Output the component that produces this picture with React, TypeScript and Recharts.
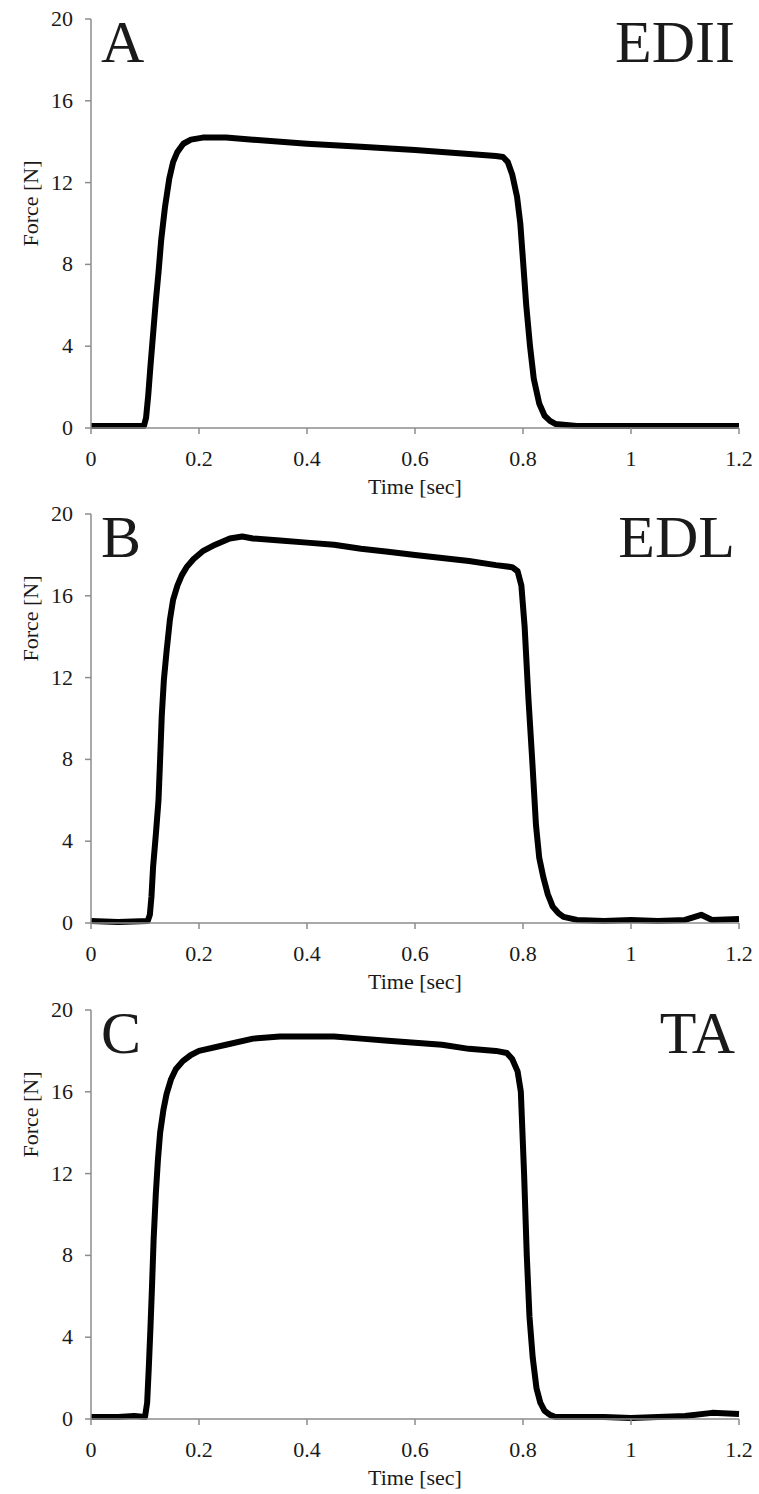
import React from 'react';
import { LineChart, Line, XAxis, YAxis } from 'recharts';

// time in seconds, force in newtons
const TIME_A = [0, 0.05, 0.098, 0.102, 0.106, 0.11, 0.115, 0.12, 0.125, 0.13, 0.137, 0.145, 0.152, 0.16, 0.171, 0.185, 0.207, 0.25, 0.3, 0.4, 0.5, 0.6, 0.7, 0.75, 0.763, 0.772, 0.78, 0.789, 0.795, 0.8, 0.806, 0.813, 0.82, 0.83, 0.84, 0.85, 0.86, 0.9, 1.0, 1.1, 1.2];
const FORCE_A = [0.1, 0.1, 0.1, 0.5, 1.6, 3.0, 4.6, 6.2, 7.6, 9.2, 10.8, 12.2, 13.0, 13.5, 13.9, 14.1, 14.2, 14.2, 14.1, 13.9, 13.75, 13.6, 13.4, 13.3, 13.25, 13.0, 12.4, 11.3, 10.0, 8.2, 6.0, 4.0, 2.4, 1.2, 0.6, 0.35, 0.2, 0.1, 0.1, 0.1, 0.1];

const TIME_B = [0, 0.05, 0.105, 0.109, 0.112, 0.115, 0.12, 0.125, 0.128, 0.131, 0.135, 0.14, 0.146, 0.152, 0.16, 0.168, 0.177, 0.19, 0.208, 0.23, 0.257, 0.28, 0.3, 0.35, 0.4, 0.45, 0.5, 0.55, 0.6, 0.65, 0.7, 0.75, 0.78, 0.79, 0.797, 0.803, 0.81, 0.817, 0.824, 0.83, 0.838, 0.846, 0.855, 0.865, 0.875, 0.9, 0.95, 1.0, 1.05, 1.1, 1.13, 1.15, 1.2];
const FORCE_B = [0.1, 0.05, 0.1, 0.4, 1.3, 2.75, 4.3, 6.0, 8.0, 10.1, 11.9, 13.3, 14.8, 15.8, 16.5, 17.0, 17.4, 17.8, 18.2, 18.5, 18.8, 18.9, 18.8, 18.7, 18.6, 18.5, 18.3, 18.15, 18.0, 17.85, 17.7, 17.5, 17.4, 17.2, 16.5, 14.5, 11.0, 8.0, 4.8, 3.2, 2.2, 1.4, 0.8, 0.5, 0.3, 0.15, 0.1, 0.15, 0.1, 0.15, 0.4, 0.15, 0.2];

const TIME_C = [0, 0.05, 0.08, 0.1, 0.104, 0.107, 0.11, 0.113, 0.116, 0.12, 0.124, 0.128, 0.134, 0.14, 0.148, 0.157, 0.17, 0.185, 0.2, 0.25, 0.3, 0.35, 0.4, 0.45, 0.5, 0.55, 0.6, 0.65, 0.7, 0.75, 0.77, 0.78, 0.79, 0.796, 0.802, 0.807, 0.812, 0.818, 0.825, 0.832, 0.84, 0.85, 0.86, 0.9, 0.95, 1.0, 1.05, 1.1, 1.15, 1.2];
const FORCE_C = [0.1, 0.1, 0.15, 0.1, 0.8, 2.5, 4.4, 6.5, 8.8, 11.0, 12.7, 14.0, 15.1, 15.9, 16.6, 17.1, 17.5, 17.8, 18.0, 18.3, 18.6, 18.7, 18.7, 18.7, 18.6, 18.5, 18.4, 18.3, 18.1, 18.0, 17.9, 17.6, 17.0, 16.0, 12.0, 8.0, 5.0, 3.0, 1.5, 0.8, 0.4, 0.2, 0.1, 0.1, 0.1, 0.05, 0.1, 0.15, 0.3, 0.25];

const X_TICKS = [0, 0.2, 0.4, 0.6, 0.8, 1, 1.2];
const Y_TICKS = [0, 4, 8, 12, 16, 20];

const PANELS = [
    { letter: 'A', muscle: 'EDII', time: TIME_A, force: FORCE_A, top: 0, yLabelShift: -20 },
    { letter: 'B', muscle: 'EDL', time: TIME_B, force: FORCE_B, top: 495, yLabelShift: -100 },
    { letter: 'C', muscle: 'TA', time: TIME_C, force: FORCE_C, top: 991, yLabelShift: -100 },
];

const SERIF = "'Liberation Serif', 'Times New Roman', serif";
const AXIS_GREY = '#8c8c8c';
const TEXT = '#1a1a1a';

const W = 759;
const H = 500;
const PLOT_TOP = 19;

const serifStyle = { fontFamily: SERIF };

function renderXTick(props: any) {
    const { x, y, payload } = props;
    return (
        <text x={x} y={y + 15} textAnchor="middle" fill={TEXT} fontSize={22} style={serifStyle}>
            {payload.value}
        </text>
    );
}

function renderYTick(props: any) {
    const { x, y, payload } = props;
    return (
        <text x={x} y={y + 7} textAnchor="end" fill={TEXT} fontSize={22} style={serifStyle}>
            {payload.value}
        </text>
    );
}

function Panel({ letter, muscle, time, force, top, yLabelShift }: any) {
    const data = time.map((t: number, i: number) => ({ t, force: force[i] }));

    return (
        <div style={{ position: 'absolute', left: 0, top, width: W, height: H }}>
            <LineChart width={W} height={H} data={data} margin={{ top: PLOT_TOP, right: 20, bottom: 0, left: 0 }} style={serifStyle}>
                <XAxis
                    dataKey="t"
                    type="number"
                    domain={[0, 1.2]}
                    ticks={X_TICKS}
                    height={72}
                    tickSize={6}
                    tickMargin={17}
                    axisLine={{ stroke: AXIS_GREY, strokeWidth: 1.5 }}
                    tickLine={{ stroke: AXIS_GREY, strokeWidth: 1.5 }}
                    tick={renderXTick}
                    label={{
                        content: ({ viewBox }: any) => (
                            <text x={viewBox.x + viewBox.width / 2} y={viewBox.y + 66} textAnchor="middle" fill={TEXT} fontSize={22} style={serifStyle}>
                                Time [sec]
                            </text>
                        ),
                    }}
                />
                <YAxis
                    type="number"
                    domain={[0, 20]}
                    ticks={Y_TICKS}
                    width={91}
                    tickSize={6}
                    tickMargin={12}
                    axisLine={{ stroke: AXIS_GREY, strokeWidth: 1.5 }}
                    tickLine={{ stroke: AXIS_GREY, strokeWidth: 1.5 }}
                    tick={renderYTick}
                    label={{
                        content: ({ viewBox }: any) => {
                            const cx = 30;
                            const cy = viewBox.y + viewBox.height / 2 + yLabelShift;
                            return (
                                <text x={cx} y={cy} transform={`rotate(-90, ${cx}, ${cy})`} textAnchor="middle" dominantBaseline="central" fill={TEXT} fontSize={22} style={serifStyle}>
                                    Force [N]
                                </text>
                            );
                        },
                    }}
                />
                <Line
                    type="linear"
                    dataKey="force"
                    stroke="#000"
                    strokeWidth={6}
                    strokeLinejoin="round"
                    dot={false}
                    isAnimationActive={false}
                />
            </LineChart>
            <svg width={W} height={H} style={{ position: 'absolute', left: 0, top: 0, pointerEvents: 'none', fontFamily: SERIF }}>
                <text x={101} y={PLOT_TOP + 43} fill={TEXT} fontSize={60}>{letter}</text>
                <text x={735} y={PLOT_TOP + 43} textAnchor="end" fill={TEXT} fontSize={60}>{muscle}</text>
            </svg>
        </div>
    );
}

export default function App() {
    return (
        <div style={{ position: 'absolute', left: 0, top: 0, width: W, height: 1494, background: '#fff', fontFamily: SERIF }}>
            {PANELS.map((p) => (
                <Panel key={p.letter} {...p} />
            ))}
        </div>
    );
}
